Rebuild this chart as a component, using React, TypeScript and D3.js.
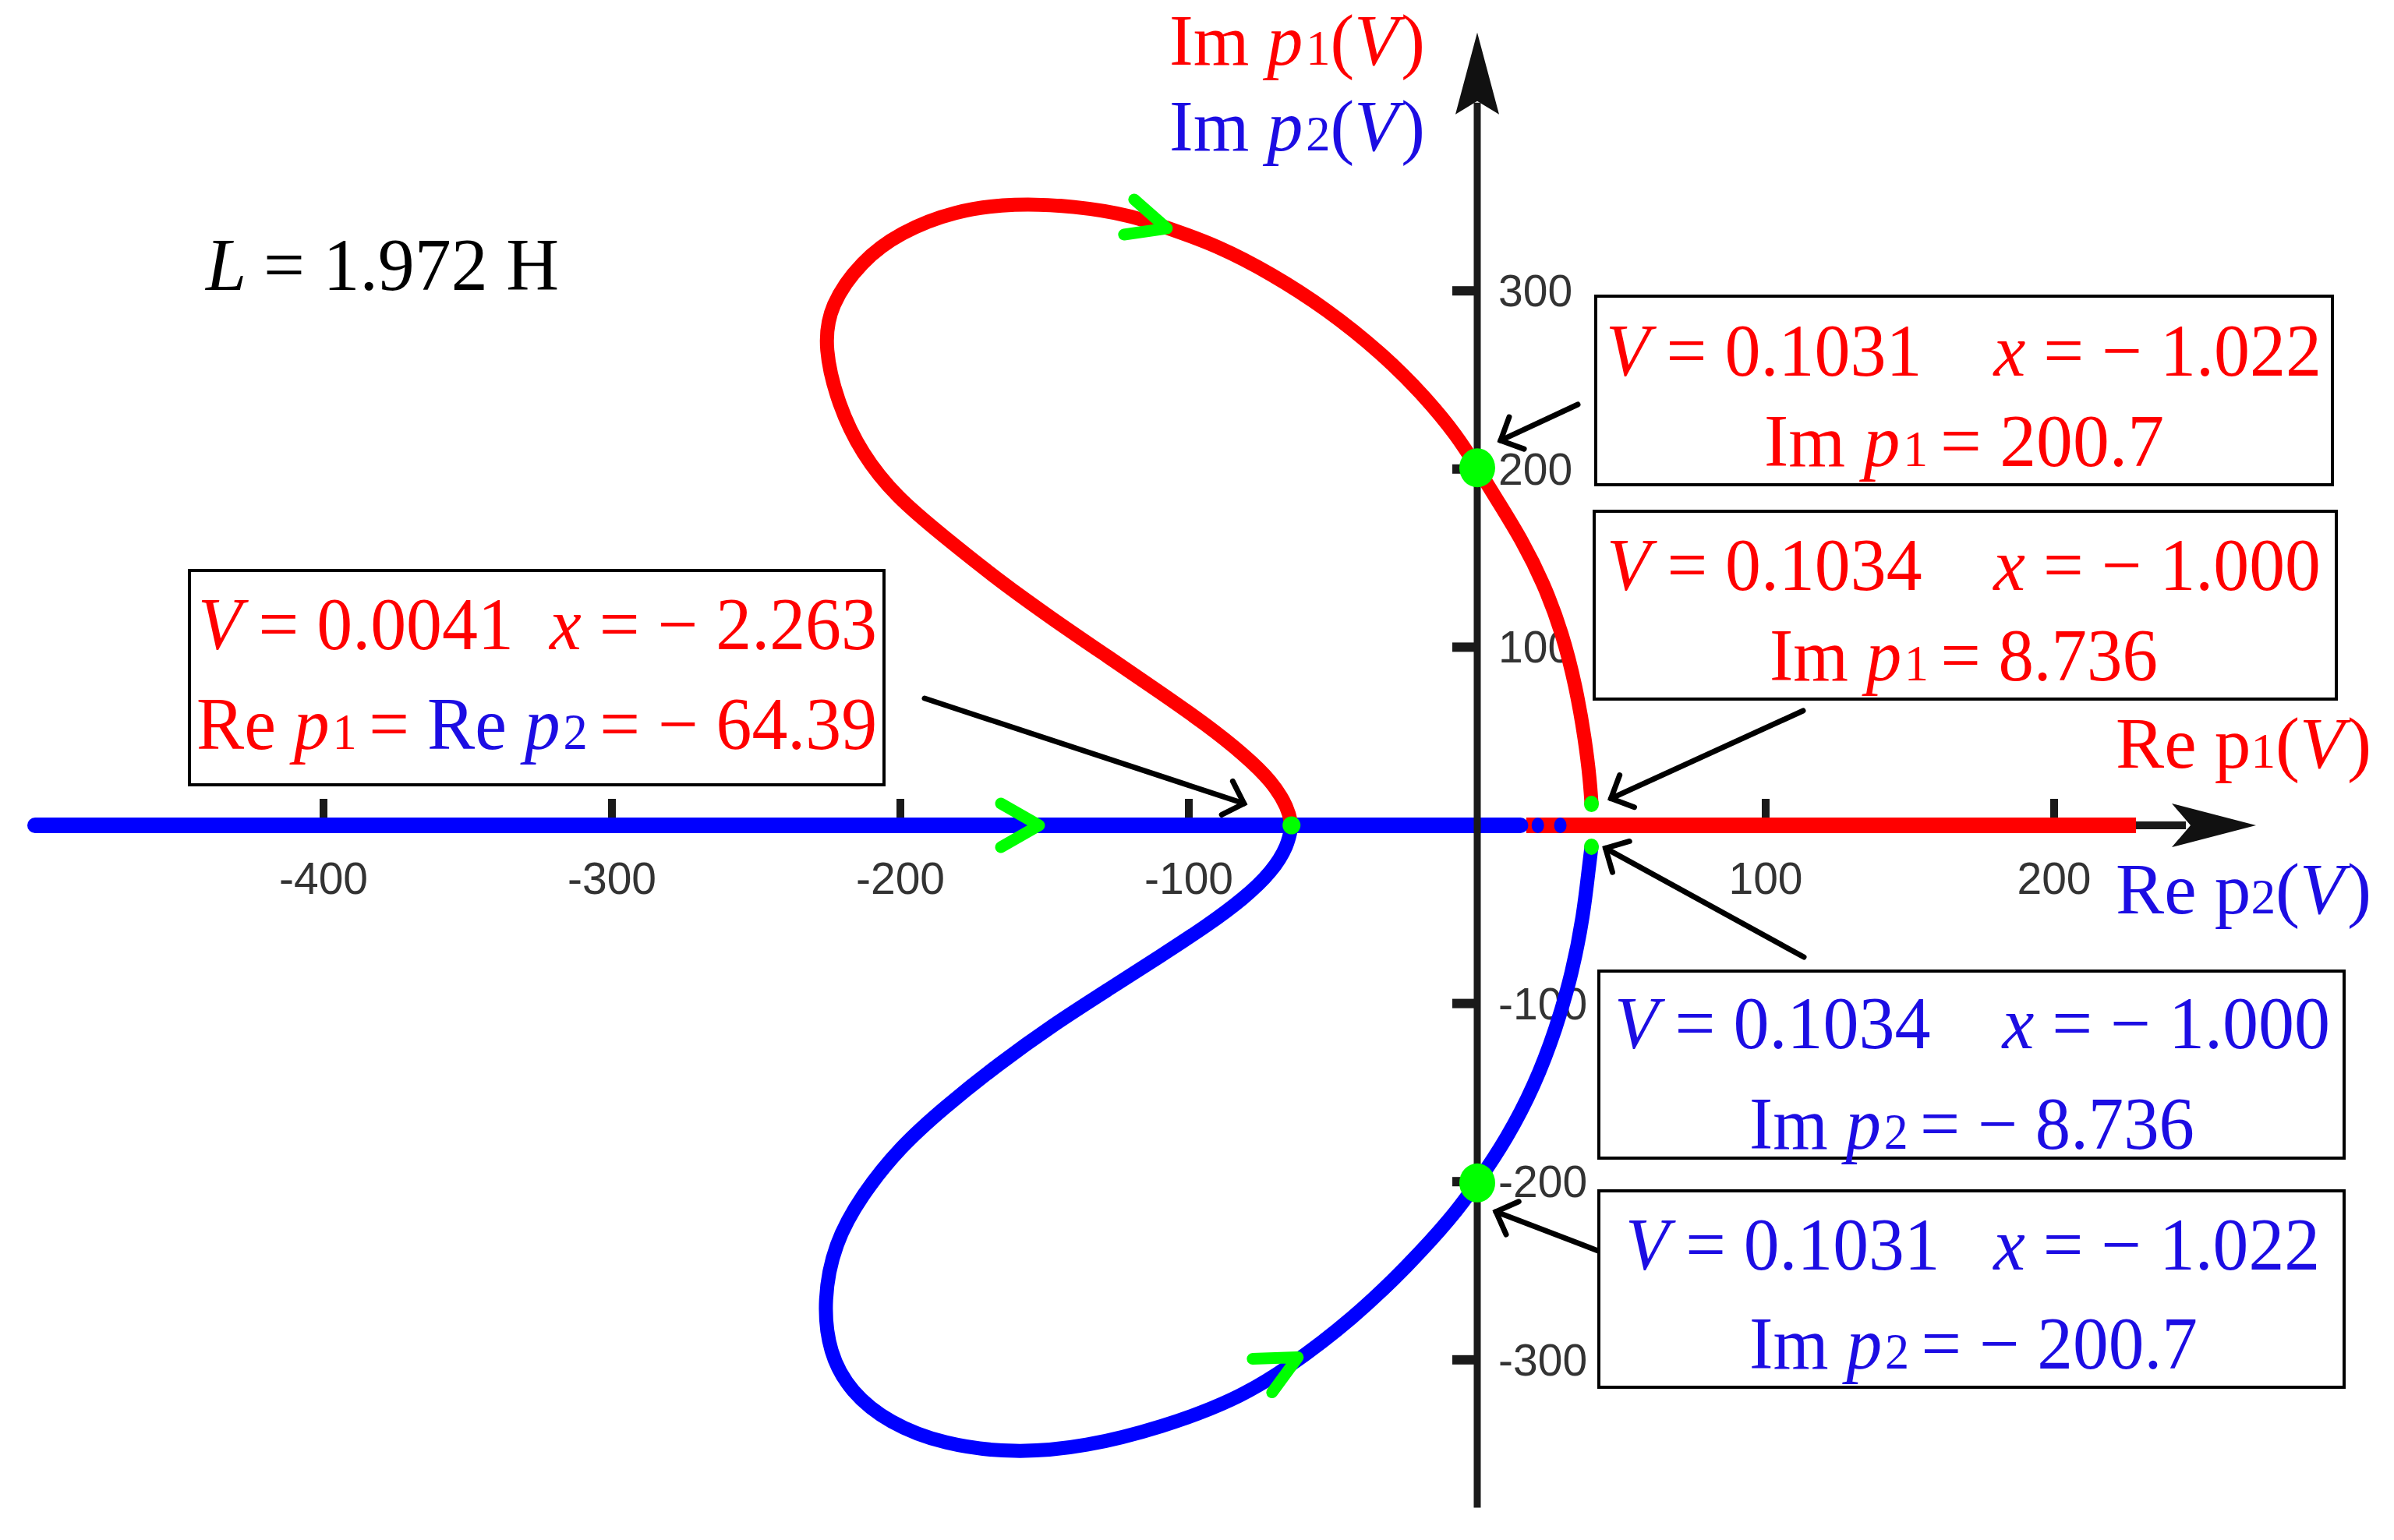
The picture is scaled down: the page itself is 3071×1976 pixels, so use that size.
import React from 'react';
import * as d3 from 'd3';

const W = 3071;
const H = 1976;

// ---- data (complex plane: Re, Im) ----
// p1(V) locus (red), complex branch
const redRe = [-64.39, -65.6, -71.2, -80.7, -94.0, -109.2, -128.1, -147.1, -166.1, -185.0, -201.5, -213.5, -221.5, -226.5, -224.5, -213.5, -200.2, -181.2, -160.4, -139.5, -120.5, -107.3, -90.2, -71.2, -52.3, -33.3, -18.2, -7, 0, 7.5, 15.5, 23, 29.5, 34.2, 37.4, 39.1, 39.6];
const redIm = [0, 10.0, 24.7, 39.5, 56.6, 73.8, 94.7, 115.6, 137.7, 162.2, 184.3, 208.8, 235.8, 268, 292, 316.8, 332.8, 345.1, 349.3, 347.6, 342.6, 335.3, 325.5, 309.5, 289.9, 265.3, 240.8, 218.7, 200.7, 181, 160, 136, 108, 78, 48, 25, 12];
// p2(V) locus (blue), complex branch
const blueRe = [-64.39, -65.6, -71.2, -80.7, -94.0, -109.2, -128.1, -147.1, -166.1, -185.0, -200.2, -213.5, -222.9, -226.7, -224.8, -217.2, -204.0, -185.0, -160.4, -135.7, -109.2, -84.5, -65.6, -42.8, -23.9, -8.7, 0, 10.3, 19.8, 27.3, 33.0, 36.8, 38.7, 39.6];
const blueIm = [0, -11.3, -26.1, -40.8, -56.7, -72.7, -92.3, -112.0, -134.1, -158.6, -180.7, -207.7, -234.7, -266.6, -296.1, -318.2, -335.4, -347.6, -352.5, -348.9, -337.8, -323.1, -304.7, -276.5, -247.0, -220.0, -200.7, -175.8, -146.3, -114.4, -82.5, -50.6, -23.6, -12];
// real-axis branches
const blueRealRe = [-500, 15];
const redRealRe = [17, 228.4];
const blueRealDotsRe = [21, 28.8];

// axis ticks
const xTicks = [-400, -300, -200, -100, 100, 200];
const yTicks = [-300, -200, -100, 100, 200, 300];
const xArrowEnd = 270;
const yArrowEnd = 445;
const yAxisBottom = -383;

// highlighted points
const bigDotRe = [0, 0];
const bigDotIm = [200.7, -200.7];
const smallDotRe = [-64.39, 39.6, 39.6];
const smallDotIm = [0, 12, -12];

// direction chevrons (tip positions)
const dirRe = [-107.6, -151.9, -62.2];
const dirIm = [335.1, 0, -298.6];

const RED = '#ff0000';
const BLUE = '#0000ff';
const TBLUE = '#1c0de3';
const GREEN = '#00ff00';
const SERIF = '"Liberation Serif", "Times New Roman", serif';
const SANS = '"Liberation Sans", Arial, sans-serif';

type Part = { t: string; i?: boolean; s?: boolean; c?: string; dx?: number };

function Rich({ x, y, w, parts, size, color }: { x: number; y: number; w: number; parts: Part[]; size: number; color: string }) {
  return (
    <text x={x} y={y} fontSize={size} fill={color} fontFamily={SERIF} textLength={w} lengthAdjust="spacingAndGlyphs" style={{ whiteSpace: 'pre' }}>
      {parts.map((p, k) => (
        <tspan key={k} dx={p.dx} fontStyle={p.i ? 'italic' : 'normal'} fontSize={p.s ? size * 0.68 : size} fill={p.c || color}>
          {p.t}
        </tspan>
      ))}
    </text>
  );
}

export default function App() {
  const x = d3.scaleLinear().domain([-500, 250]).range([45, 2820]);
  const y = d3.scaleLinear().domain([-400, 400]).range([1973.4, 144.6]);

  const line = d3
    .line<[number, number]>()
    .x((d) => x(d[0]))
    .y((d) => y(d[1]))
    .curve(d3.curveBasis);

  const redPts = redRe.map((r, i) => [r, redIm[i]] as [number, number]);
  const bluePts = blueRe.map((r, i) => [r, blueIm[i]] as [number, number]);

  const x0 = x(0);
  const y0 = y(0);

  // chevron arm offsets (px)
  const chevArms: [number, number][][] = [
    [[-42, -37], [-55, 8]],
    [[-49, -28], [-49, 28]],
    [[-58, 2], [-33, 45]],
  ];

  // annotation arrows: start (px) and target point with tip offset
  const arrows = [
    { sx: 2024, sy: 519, tx: x(bigDotRe[0]) + 30, ty: y(bigDotIm[0]) - 35 },
    { sx: 2313, sy: 912, tx: x(smallDotRe[1]) + 25, ty: y(smallDotIm[1]) - 7 },
    { sx: 1186, sy: 896, tx: x(smallDotRe[0]) - 61, ty: y(smallDotIm[0]) - 28 },
    { sx: 2314, sy: 1228, tx: x(smallDotRe[2]) + 18, ty: y(smallDotIm[2]) + 2 },
    { sx: 2050, sy: 1605, tx: x(bigDotRe[1]) + 24, ty: y(bigDotIm[1]) + 37 },
  ];

  const headLen = 32;
  const headAng = (45 * Math.PI) / 180;

  const boxes = [
    { x: 2047, y: 380, w: 945, h: 242 },
    { x: 2045, y: 656, w: 952, h: 241 },
    { x: 243, y: 732, w: 891, h: 275 },
    { x: 2051, y: 1246, w: 956, h: 240 },
    { x: 2051, y: 1528, w: 956, h: 252 },
  ];

  const FS = 95;

  return (
    <svg width={W} height={H} style={{ position: 'absolute', left: 0, top: 0, background: '#fff' }}>
      <rect x={0} y={0} width={W} height={H} fill="#fff" />

      {/* x axis line */}
      <line x1={x(-500)} y1={y0} x2={x(xArrowEnd) - 90} y2={y0} stroke="#1a1a1a" strokeWidth={10} />
      <path
        d={`M${x(xArrowEnd)},${y0} L${x(xArrowEnd) - 108},${y0 - 28} L${x(xArrowEnd) - 84},${y0} L${x(xArrowEnd) - 108},${y0 + 28} Z`}
        fill="#111"
      />

      {/* ticks */}
      {xTicks.map((t) => (
        <rect key={'xt' + t} x={x(t) - 5} y={y0 - 34} width={10} height={34} fill="#1a1a1a" />
      ))}
      {yTicks.map((t) => (
        <rect key={'yt' + t} x={x0 - 32} y={y(t) - 6} width={32} height={12} fill="#1a1a1a" />
      ))}
      {xTicks.map((t) => (
        <text key={'xl' + t} x={x(t)} y={y0 + 88} fontSize={57} fontFamily={SANS} fill="#333" textAnchor="middle">
          {String(t)}
        </text>
      ))}
      {yTicks.map((t) => (
        <text key={'yl' + t} x={x0 + 27} y={y(t) + 20} fontSize={57} fontFamily={SANS} fill="#333">
          {String(t)}
        </text>
      ))}

      {/* real-axis branches */}
      <line x1={x(redRealRe[0])} y1={y0} x2={x(redRealRe[1])} y2={y0} stroke={RED} strokeWidth={20} />
      <line x1={x(blueRealRe[0])} y1={y0} x2={x(blueRealRe[1])} y2={y0} stroke={BLUE} strokeWidth={20} strokeLinecap="round" />
      {blueRealDotsRe.map((r, i) => (
        <ellipse key={'bd' + i} cx={x(r)} cy={y0} rx={8} ry={10} fill={BLUE} />
      ))}

      {/* complex branches */}
      <path d={line(redPts) || ''} fill="none" stroke={RED} strokeWidth={18} strokeLinecap="round" strokeLinejoin="round" />
      <path d={line(bluePts) || ''} fill="none" stroke={BLUE} strokeWidth={18} strokeLinecap="round" strokeLinejoin="round" />

      {/* y axis (drawn over curves) */}
      <line x1={x0} y1={y(yAxisBottom)} x2={x0} y2={y(yArrowEnd) + 90} stroke="#1a1a1a" strokeWidth={9} />
      <path
        d={`M${x0},${y(yArrowEnd)} L${x0 - 28},${y(yArrowEnd) + 105} L${x0},${y(yArrowEnd) + 88} L${x0 + 28},${y(yArrowEnd) + 105} Z`}
        fill="#111"
      />

      {/* direction chevrons */}
      {dirRe.map((r, i) => {
        const tx = x(r);
        const ty = y(dirIm[i]);
        const [a, b] = chevArms[i];
        return (
          <path
            key={'ch' + i}
            d={`M${tx + a[0]},${ty + a[1]} L${tx},${ty} L${tx + b[0]},${ty + b[1]}`}
            fill="none"
            stroke={GREEN}
            strokeWidth={15}
            strokeLinecap="round"
            strokeLinejoin="round"
          />
        );
      })}

      {/* markers */}
      {bigDotRe.map((r, i) => (
        <ellipse key={'bg' + i} cx={x(r)} cy={y(bigDotIm[i])} rx={23} ry={25} fill={GREEN} />
      ))}
      {smallDotRe.map((r, i) => (
        <ellipse key={'sg' + i} cx={x(r)} cy={y(smallDotIm[i])} rx={i === 0 ? 11.5 : 9.5} ry={i === 0 ? 11.5 : 10.5} fill={GREEN} />
      ))}

      {/* annotation arrows */}
      {arrows.map((a, i) => {
        const ang = Math.atan2(a.sy - a.ty, a.sx - a.tx);
        const h1 = [a.tx + headLen * Math.cos(ang + headAng), a.ty + headLen * Math.sin(ang + headAng)];
        const h2 = [a.tx + headLen * Math.cos(ang - headAng), a.ty + headLen * Math.sin(ang - headAng)];
        return (
          <g key={'ar' + i} stroke="#000" strokeWidth={7} strokeLinecap="round" fill="none">
            <line x1={a.sx} y1={a.sy} x2={a.tx} y2={a.ty} />
            <path d={`M${h1[0]},${h1[1]} L${a.tx},${a.ty} L${h2[0]},${h2[1]}`} />
          </g>
        );
      })}

      {/* boxes */}
      {boxes.map((b, i) => (
        <rect key={'bx' + i} x={b.x} y={b.y} width={b.w} height={b.h} fill="#fff" stroke="#000" strokeWidth={4} />
      ))}

      {/* box 1 */}
      <Rich x={2060} y={482} w={918} size={FS} color={RED} parts={[{ t: 'V ', i: true }, { t: '= 0.1031' }, { t: '    x ', i: true }, { t: '= − 1.022' }]} />
      <Rich x={2263} y={598} w={513} size={FS} color={RED} parts={[{ t: 'Im ' }, { t: 'p', i: true }, { t: '1 ', s: true, dx: 4 }, { t: '= 200.7' }]} />
      {/* box 2 */}
      <Rich x={2061} y={757} w={916} size={FS} color={RED} parts={[{ t: 'V ', i: true }, { t: '= 0.1034' }, { t: '    x ', i: true }, { t: '= − 1.000' }]} />
      <Rich x={2270} y={873} w={498} size={FS} color={RED} parts={[{ t: 'Im ' }, { t: 'p', i: true }, { t: '1 ', s: true, dx: 4 }, { t: '= 8.736' }]} />
      {/* box 3 */}
      <Rich x={254} y={833} w={871} size={FS} color={RED} parts={[{ t: 'V ', i: true }, { t: '= 0.0041' }, { t: '  x ', i: true }, { t: '= − 2.263' }]} />
      <Rich
        x={252}
        y={961}
        w={873}
        size={FS}
        color={RED}
        parts={[
          { t: 'Re ' },
          { t: 'p', i: true },
          { t: '1 ', s: true, dx: 4 },
          { t: '= ' },
          { t: 'Re ', c: TBLUE },
          { t: 'p', i: true, c: TBLUE },
          { t: '2 ', s: true, c: TBLUE, dx: 4 },
          { t: '= − 64.39' },
        ]}
      />
      {/* box 4 */}
      <Rich x={2071} y={1345} w={918} size={FS} color={TBLUE} parts={[{ t: 'V ', i: true }, { t: '= 0.1034' }, { t: '    x ', i: true }, { t: '= − 1.000' }]} />
      <Rich x={2244} y={1474} w={571} size={FS} color={TBLUE} parts={[{ t: 'Im ' }, { t: 'p', i: true }, { t: '2 ', s: true, dx: 4 }, { t: '= − 8.736' }]} />
      {/* box 5 */}
      <Rich x={2085} y={1629} w={891} size={FS} color={TBLUE} parts={[{ t: 'V ', i: true }, { t: '= 0.1031' }, { t: '   x ', i: true }, { t: '= − 1.022' }]} />
      <Rich x={2244} y={1756} w={575} size={FS} color={TBLUE} parts={[{ t: 'Im ' }, { t: 'p', i: true }, { t: '2 ', s: true, dx: 4 }, { t: '= − 200.7' }]} />

      {/* axis labels */}
      <Rich x={1500} y={83} w={328} size={94} color={RED} parts={[{ t: 'Im ' }, { t: 'p', i: true }, { t: '1', s: true, dx: 4 }, { t: '(' }, { t: 'V', i: true }, { t: ')', dx: 4 }]} />
      <Rich x={1500} y={193} w={328} size={94} color={TBLUE} parts={[{ t: 'Im ' }, { t: 'p', i: true }, { t: '2', s: true, dx: 4 }, { t: '(' }, { t: 'V', i: true }, { t: ')', dx: 4 }]} />
      <Rich x={2714} y={985} w={328} size={94} color={RED} parts={[{ t: 'Re p' }, { t: '1', s: true }, { t: '(' }, { t: 'V', i: true }, { t: ')', dx: 4 }]} />
      <Rich x={2714} y={1172} w={328} size={94} color={TBLUE} parts={[{ t: 'Re p' }, { t: '2', s: true }, { t: '(' }, { t: 'V', i: true }, { t: ')', dx: 4 }]} />

      {/* inductance label */}
      <Rich x={264} y={372} w={453} size={95} color="#000" parts={[{ t: 'L ', i: true }, { t: '= 1.972 H' }]} />
    </svg>
  );
}
